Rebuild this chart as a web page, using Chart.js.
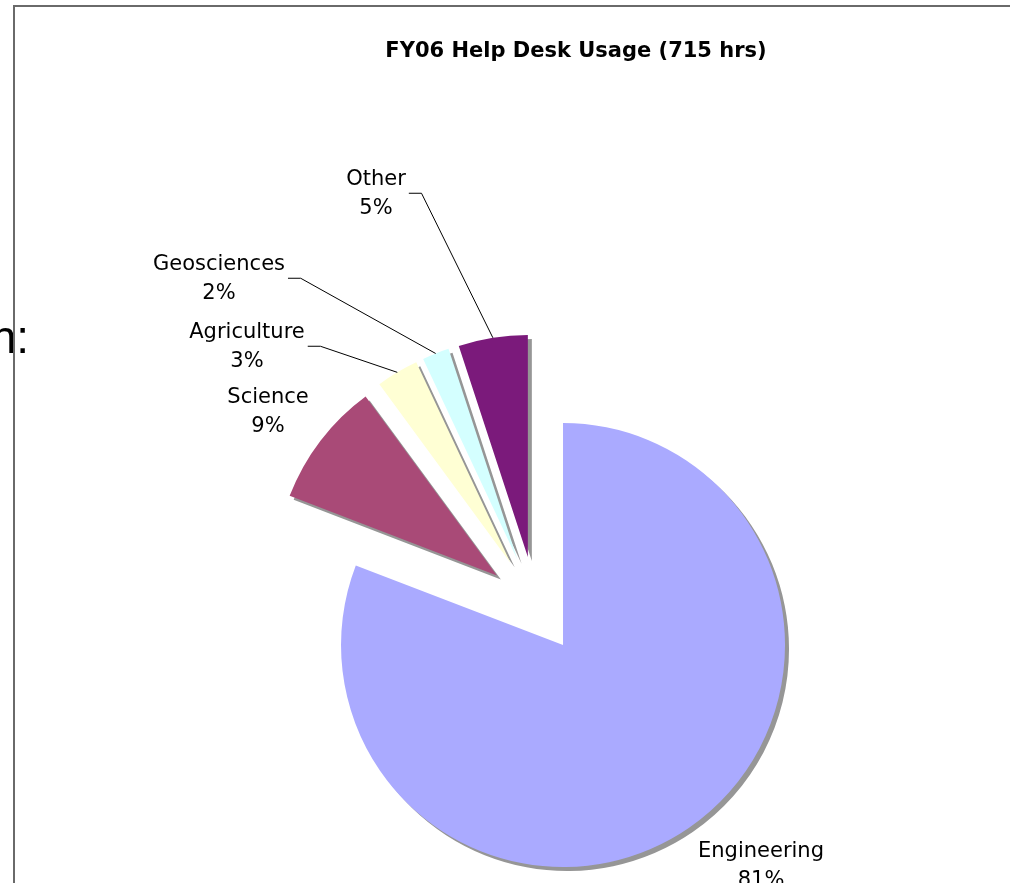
<!DOCTYPE html>
<html>
<head>
<meta charset="utf-8">
<script src="https://cdn.jsdelivr.net/npm/chart.js@4.4.1/dist/chart.umd.min.js"></script>
<style>
  html, body { margin: 0; padding: 0; background: #ffffff; }
  #wrap { position: relative; width: 1015px; height: 883px; overflow: hidden; }
  canvas { display: block; }
</style>
</head>
<body>
<div id="wrap"><canvas id="c" width="1015" height="883"></canvas></div>
<script>
// ---- data ----
const categories = ['Engineering', 'Science', 'Agriculture', 'Geosciences', 'Other'];
const hours = [578, 65, 22, 14, 36];
const percentLabels = ['81%', '9%', '3%', '2%', '5%'];
const titleText = 'FY06 Help Desk Usage (715 hrs)';

// ---- styles ----
const sliceColors = ['#AAAAFF', '#A94A77', '#FFFFD4', '#D4FFFF', '#7B1A7B'];
const explode = 48.6;              // px each slice is pulled out along its bisector
const labelPos = [                 // centre of first label line
  {x: 761, y: 852, leader: false},
  {x: 268, y: 398, leader: false},
  {x: 247, y: 333, leader: true},
  {x: 219, y: 265, leader: true},
  {x: 376, y: 180, leader: true}
];
const lineGap = 28.5;
const labelFont = '21px "DejaVu Sans", Verdana, sans-serif';

const explodePlugin = {
  id: 'explode',
  afterDatasetUpdate(chart, args) {
    const meta = chart.getDatasetMeta(args.index);
    meta.data.forEach(el => {
      const mid = (el.startAngle + el.endAngle) / 2;
      el.x += Math.cos(mid) * explode;
      el.y += Math.sin(mid) * explode;
    });
  }
};

const framePlugin = {
  id: 'frame',
  beforeDraw(chart) {
    const ctx = chart.ctx;
    ctx.save();
    ctx.fillStyle = '#000';
    ctx.font = '46px "Liberation Sans", Arial, sans-serif';
    ctx.textAlign = 'right';
    ctx.textBaseline = 'alphabetic';
    ctx.fillText('n:', 29, 353);
    ctx.fillStyle = '#6a6a6a';
    ctx.fillRect(13, 5, 997, 2);
    ctx.fillRect(13, 5, 2, 878);
    ctx.fillStyle = '#000';
    ctx.font = 'bold 21px "DejaVu Sans", Verdana, sans-serif';
    ctx.textAlign = 'center';
    ctx.textBaseline = 'middle';
    ctx.fillText(titleText, 576, 52);
    ctx.restore();
  },
  beforeDatasetsDraw(chart) {
    const ctx = chart.ctx;
    ctx.save();
    ctx.shadowColor = '#969696';
    ctx.shadowOffsetX = 4;
    ctx.shadowOffsetY = 4;
    ctx.shadowBlur = 0;
  },
  afterDatasetsDraw(chart) {
    const ctx = chart.ctx;
    ctx.restore();
    ctx.save();
    const meta = chart.getDatasetMeta(0);
    ctx.font = labelFont;
    ctx.fillStyle = '#000';
    ctx.strokeStyle = '#000';
    ctx.lineWidth = 1;
    ctx.textAlign = 'center';
    ctx.textBaseline = 'middle';
    meta.data.forEach((el, i) => {
      const p = labelPos[i];
      ctx.fillText(categories[i], p.x, p.y);
      ctx.fillText(percentLabels[i], p.x, p.y + lineGap);
      if (p.leader) {
        const w = ctx.measureText(categories[i]).width;
        const sx = p.x + w / 2 + 3;
        const sy = p.y + lineGap / 2 - 1;
        const mid = (el.startAngle + el.endAngle) / 2;
        const ex = el.x + Math.cos(mid) * el.outerRadius;
        const ey = el.y + Math.sin(mid) * el.outerRadius;
        ctx.beginPath();
        ctx.moveTo(sx, sy);
        ctx.lineTo(sx + 12.7, sy);
        ctx.lineTo(ex, ey);
        ctx.stroke();
      }
    });
    ctx.restore();
  }
};

new Chart(document.getElementById('c'), {
  type: 'pie',
  data: {
    labels: categories,
    datasets: [{
      data: hours,
      backgroundColor: sliceColors,
      borderWidth: 0,
      radius: 222
    }]
  },
  options: {
    responsive: false,
    devicePixelRatio: 1,
    animation: false,
    layout: { padding: { left: 56, right: 0, top: 327, bottom: 0 } },
    plugins: {
      legend: { display: false },
      tooltip: { enabled: false },
      title: { display: false }
    }
  },
  plugins: [explodePlugin, framePlugin]
});
</script>
</body>
</html>
